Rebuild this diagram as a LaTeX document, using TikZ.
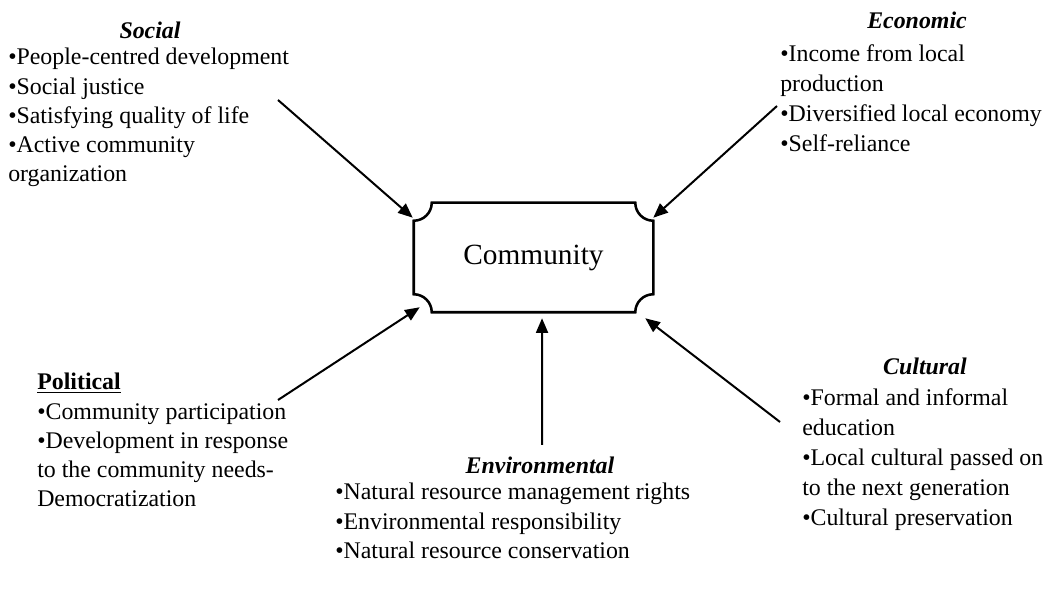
\documentclass[tikz,border=0pt]{standalone}
\usepackage{fontspec}
\setmainfont{Liberation Serif}
\usepackage{tikz}
\usetikzlibrary{arrows.meta, positioning}

\begin{document}
\begin{tikzpicture}[x=0.75pt, y=0.75pt,
    items/.style={anchor=north west, align=left, inner sep=0pt, font=\fontsize{17.9pt}{21.9pt}\selectfont},
    wide/.style={items, font=\fontsize{17.9pt}{22.6pt}\selectfont},
    head/.style={anchor=base, inner sep=0pt, font=\fontsize{17.9pt}{21.9pt}\selectfont\bfseries\itshape},
    link/.style={line width=1.5pt, -{Triangle[length=11pt, width=9pt]}}]
    \useasboundingbox (0,0) rectangle (1048,592);
    % central box with concave corners
    \node[minimum width=179.25pt, minimum height=81.75pt, inner sep=0pt, font=\fontsize{22pt}{26pt}\selectfont] (comm) at (533.5,334.5) {Community};
    \draw[line width=1.9pt] ([xshift=13.5pt]comm.north west) -- ([xshift=-13.5pt]comm.north east)
        arc[start angle=180, end angle=270, radius=13.5pt] -- ([yshift=13.5pt]comm.south east)
        arc[start angle=90, end angle=180, radius=13.5pt] -- ([xshift=13.5pt]comm.south west)
        arc[start angle=0, end angle=90, radius=13.5pt] -- ([yshift=-13.5pt]comm.north west)
        arc[start angle=270, end angle=360, radius=13.5pt] -- cycle;

    \node[items] (social) at (8,544) {•People-centred development\\•Social justice\\•Satisfying quality of life\\•Active community\\organization};
    \node[head] (social-h) at (150,553) {Social};
    \node[wide] (econ) at (780,548) {•Income from local\\production\\•Diversified local economy\\•Self-reliance};
    \node[head] (econ-h) at (917,563) {Economic};
    \node[items] (polit) at (37,189) {•Community participation\\•Development in response\\to the community needs-\\Democratization};
    \node[head, anchor=base west, font=\fontsize{17.9pt}{21.9pt}\selectfont\bfseries] (polit-h) at (37,202) {\underline{Political}};
    \node[items] (envir) at (335,109) {•Natural resource management rights\\•Environmental responsibility\\•Natural resource conservation};
    \node[head] (envir-h) at (540,118) {Environmental};
    \node[wide] (cult) at (802,204) {•Formal and informal\\education\\•Local cultural passed on\\to the next generation\\•Cultural preservation};
    \node[head] (cult-h) at (925,217) {Cultural};

    \coordinate (social-a) at (278,492);
    \coordinate (econ-a) at (777,486);
    \coordinate (polit-a) at (278,192);
    \coordinate (envir-a) at (542,147);
    \coordinate (cult-a) at (780,170);

    \draw[link] (social-a) -- ([shift={(-0.75pt,-11.25pt)}]comm.north west);
    \draw[link] (econ-a) -- ([yshift=-11.25pt]comm.north east);
    \draw[link] (polit-a) -- ([shift={(4.5pt,3.75pt)}]comm.south west);
    \draw[link] (envir-a) -- ([shift={(6.4pt,-4.5pt)}]comm.south);
    \draw[link] (cult-a) -- ([shift={(-6pt,-4.5pt)}]comm.south east);
\end{tikzpicture}
\end{document}
